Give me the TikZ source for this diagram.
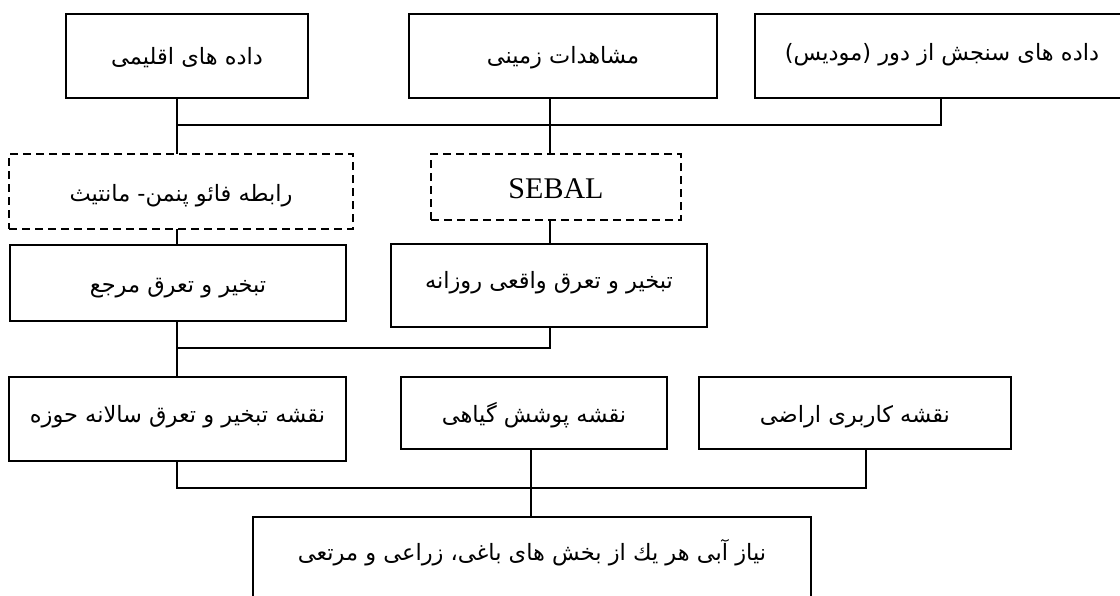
\documentclass[tikz,border=0pt]{standalone}
\usepackage{fontspec}
\setmainfont{Liberation Serif}
\newfontfamily\arabicfont[Script=Arabic]{DejaVu Sans}
\TeXXeTstate=1
\newcommand{\fa}[1]{\beginR #1\endR}
\tikzset{
  box/.style={draw, line width=2pt, inner sep=0pt, anchor=north west,
    font=\arabicfont\fontsize{22.5}{27}\selectfont},
  dbox/.style={box, dash pattern=on 8pt off 5pt},
  link/.style={line width=2pt, line cap=rect},
}
\begin{document}
\begin{tikzpicture}[x=1pt, y=-1pt]
\useasboundingbox[fill=white] (0,0) rectangle (1120,595);
% top row
\node[box, minimum width=242pt, text height=50pt, text depth=34pt] (b1) at (65,13) {\fa{داده های اقلیمی}};
\node[box, minimum width=308pt, text height=49pt, text depth=35pt] (b2) at (408,13) {\fa{مشاهدات زمینی}};
\node[box, minimum width=374pt, text height=46pt, text depth=38pt] (b3) at (754,13) {\fa{داده های سنجش از دور (مودیس)}};
% methods
\node[dbox, minimum width=344pt, text height=47pt, text depth=28pt] (d1) at (8,153) {\fa{رابطه فائو پنمن- مانتیث}};
\node[dbox, minimum width=250pt, text height=44pt, text depth=22pt, font=\fontsize{30}{34}\selectfont] (d2) at (430,153) {SEBAL};
% ET
\node[box, minimum width=336pt, text height=47pt, text depth=29pt] (e1) at (9,244) {\fa{تبخیر و تعرق مرجع}};
\node[box, minimum width=316pt, text height=44pt, text depth=39pt] (e2) at (390,243) {\fa{تبخیر و تعرق واقعی روزانه}};
% maps
\node[box, minimum width=337pt, text height=45pt, text depth=39pt] (m1) at (8,376) {\fa{نقشه تبخیر و تعرق سالانه حوزه}};
\node[box, minimum width=266pt, text height=45pt, text depth=27pt] (m2) at (400,376) {\fa{نقشه پوشش گیاهی}};
\node[box, minimum width=312pt, text height=45pt, text depth=27pt] (m3) at (698,376) {\fa{نقشه کاربری اراضی}};
% final
\node[box, minimum width=558pt, text height=43pt, text depth=70pt] (f) at (252,516) {\fa{نیاز آبی هر یك از بخش های باغی،  زراعی و مرتعی}};
% connector helpers
\coordinate (cL) at (177,0);
\coordinate (cM) at (550,0);
\coordinate (cR) at (941,0);
\coordinate (cV) at (531,0);
\coordinate (cU) at (866,0);
\coordinate (j1) at (177,125);
\coordinate (j2) at (177,348);
\coordinate (j3) at (177,488);
% connectors
\draw[link] (b1.south -| cL) -- (d1.north -| cL);
\draw[link] (j1) -- (j1 -| cR) -- (b3.south -| cR);
\draw[link] (b2.south -| cM) -- (d2.north -| cM);
\draw[link] (d1.south -| cL) -- (e1.north -| cL);
\draw[link] (d2.south -| cM) -- (e2.north -| cM);
\draw[link] (e1.south -| cL) -- (m1.north -| cL);
\draw[link] (j2) -- (j2 -| cM) -- (e2.south -| cM);
\draw[link] (m1.south -| cL) -- (j3) -- (j3 -| cU) -- (m3.south -| cU);
\draw[link] (m2.south -| cV) -- (f.north -| cV);
\end{tikzpicture}
\end{document}
